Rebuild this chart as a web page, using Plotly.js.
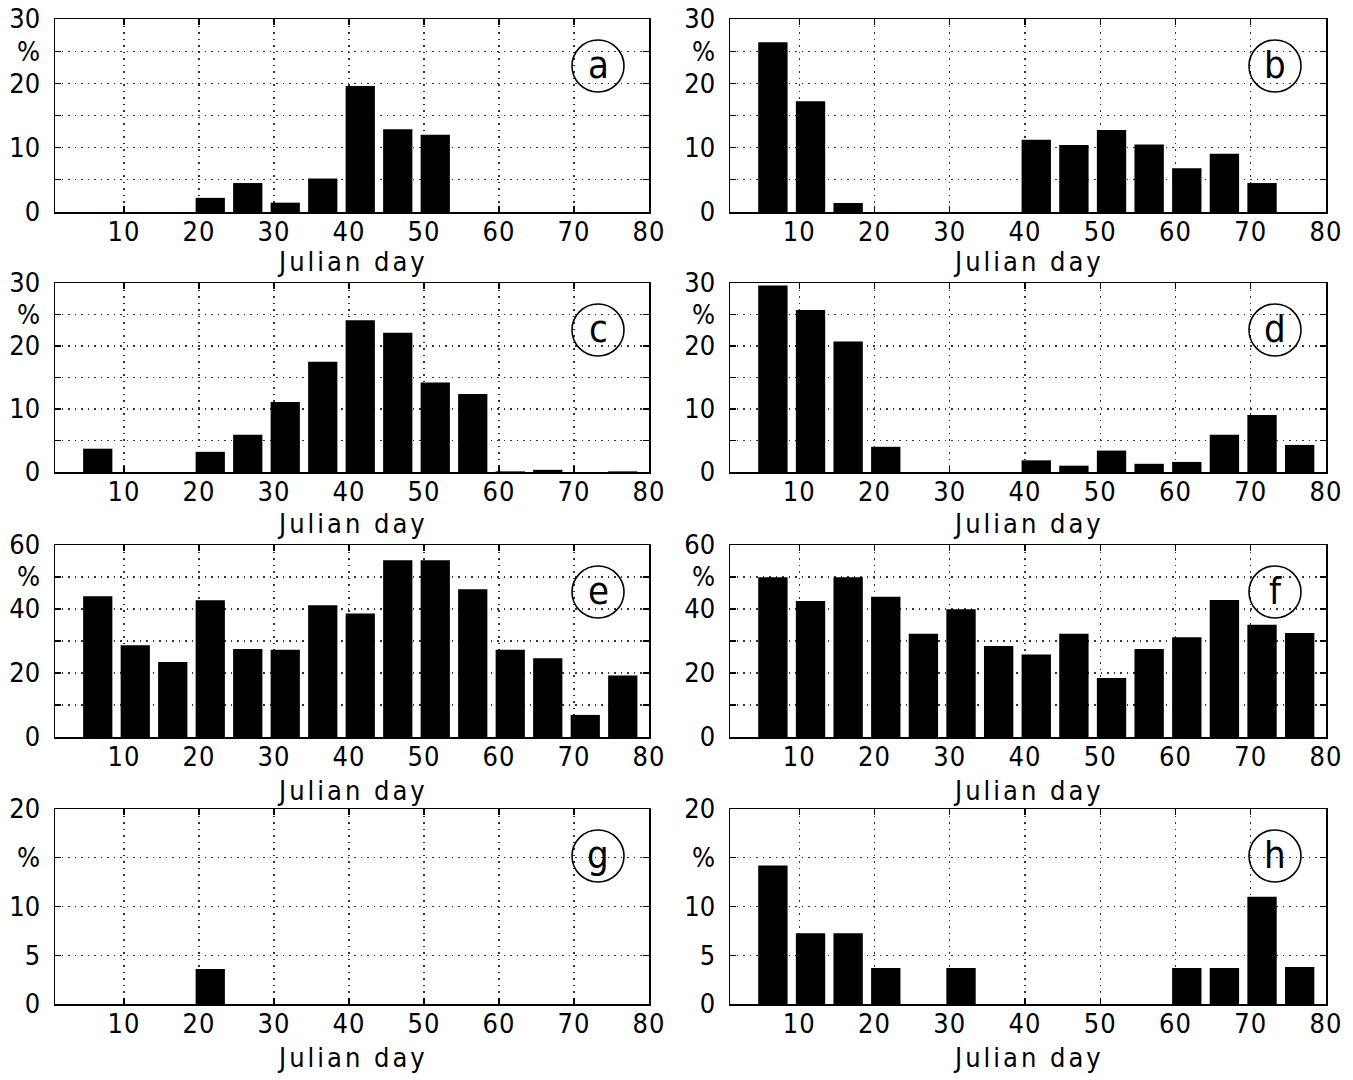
<!DOCTYPE html>
<html>
<head>
<meta charset="utf-8">
<script src="https://cdn.plot.ly/plotly-3.0.1.min.js"></script>
<style>
  html, body { margin: 0; padding: 0; background: #fff; }
  #chart { width: 1353px; height: 1080px; }
  .xaxislayer-above text { letter-spacing: 1px; }
</style>
</head>
<body>
<div id="chart"></div>
<script>
// ---- data ----
const julianDay = [6.5, 11.5, 16.5, 21.5, 26.5, 31.5, 36.5, 41.5, 46.5, 51.5, 56.5, 61.5, 66.5, 71.5, 76.5];
const panelA = [0, 0, 0, 2.2, 4.5, 1.45, 5.2, 19.6, 12.85, 12.0, 0, 0, 0, 0, 0];
const panelB = [26.4, 17.2, 1.4, 0, 0, 0, 0, 11.25, 10.4, 12.75, 10.5, 6.8, 9.07, 4.5, 0];
const panelC = [3.7, 0, 0, 3.2, 5.9, 11.1, 17.5, 24.1, 22.1, 14.2, 12.4, 0.1, 0.35, 0, 0.1];
const panelD = [29.6, 25.7, 20.7, 4.0, 0, 0, 0, 1.85, 1.0, 3.4, 1.3, 1.6, 5.9, 9.05, 4.3];
const panelE = [44.0, 28.7, 23.4, 42.7, 27.5, 27.3, 41.2, 38.6, 55.2, 55.2, 46.2, 27.3, 24.6, 6.9, 19.2];
const panelF = [49.9, 42.5, 49.9, 43.8, 32.3, 39.9, 28.4, 25.8, 32.3, 18.4, 27.5, 31.2, 42.8, 35.1, 32.5];
const panelG = [0, 0, 0, 3.6, 0, 0, 0, 0, 0, 0, 0, 0, 0, 0, 0];
const panelH = [14.2, 7.25, 7.25, 3.7, 0, 3.7, 0, 0, 0, 0, 0, 3.7, 3.7, 11.0, 3.8];
const panelLetters = ['a', 'b', 'c', 'd', 'e', 'f', 'g', 'h'];
const xTickVals = [10, 20, 30, 40, 50, 60, 70, 80];
const xTickText = ['10', '20', '30', '40', '50', '60', '70', '80'];
const yTickVals30 = [0, 5, 10, 15, 20, 25, 30];
const yTickText30 = ['0', '', '10', '', '20', '%', '30'];
const yTickVals60 = [0, 10, 20, 30, 40, 50, 60];
const yTickText60 = ['0', '', '20', '', '40', '%', '60'];
const yTickVals20 = [0, 5, 10, 15, 20];
const yTickText20 = ['0', '5', '10', '%', '20'];
const xTitle = 'Julian day';

// ---- layout helpers ----
const W = 1353, H = 1080;
const FONT = '"DejaVu Sans Condensed", "Liberation Sans Narrow", "Liberation Sans", sans-serif';
const colPx = [[55, 649], [730, 1326]];
const rowPx = [[19, 212], [283, 472], [545, 737], [809, 1004]];
const titleGap = [49, 51, 53, 53];

const series = [panelA, panelB, panelC, panelD, panelE, panelF, panelG, panelH];
const yScales = [
  [30, yTickVals30, yTickText30], [30, yTickVals30, yTickText30],
  [30, yTickVals30, yTickText30], [30, yTickVals30, yTickText30],
  [60, yTickVals60, yTickText60], [60, yTickVals60, yTickText60],
  [20, yTickVals20, yTickText20], [20, yTickVals20, yTickText20]
];

const data = [];
const layout = {
  width: W, height: H,
  margin: { l: 0, r: 0, t: 0, b: 0, pad: 0 },
  paper_bgcolor: '#fff', plot_bgcolor: '#fff',
  showlegend: false,
  font: { family: FONT, size: 27, color: '#000' },
  shapes: [], annotations: []
};

series.forEach((vals, i) => {
  const col = i % 2, row = Math.floor(i / 2);
  const xa = 'x' + (i === 0 ? '' : (i + 1));
  const ya = 'y' + (i === 0 ? '' : (i + 1));
  data.push({
    type: 'bar', x: julianDay, y: vals, xaxis: xa, yaxis: ya,
    width: 3.9, marker: { color: '#000', line: { width: 0 } },
    hoverinfo: 'x+y'
  });
  const [x0, x1] = colPx[col];
  const [y0, y1] = rowPx[row];
  const axCommon = {
    showline: true, mirror: 'ticks', linecolor: '#000', linewidth: 1.5,
    ticks: 'inside', ticklen: 6, tickwidth: 1.2, tickcolor: '#000',
    showgrid: true, gridcolor: '#333', gridwidth: 1.2, griddash: '1.5px,5px',
    zeroline: false, fixedrange: true,
    tickfont: { family: FONT, size: 27, color: '#000' }
  };
  layout['xaxis' + (i === 0 ? '' : (i + 1))] = Object.assign({}, axCommon, {
    domain: [x0 / W, x1 / W], anchor: ya,
    range: [0.8, 80], tickmode: 'array', tickvals: xTickVals, ticktext: xTickText,
    ticklabelstandoff: -5
  });
  const [ymax, tv, tt] = yScales[i];
  layout['yaxis' + (i === 0 ? '' : (i + 1))] = Object.assign({}, axCommon, {
    domain: [1 - y1 / H, 1 - y0 / H], anchor: xa,
    range: [0, ymax], tickmode: 'array', tickvals: tv, ticktext: tt,
    ticklabelstandoff: 8
  });
  // x-axis title
  layout.annotations.push({
    xref: 'paper', yref: 'paper', x: (x0 + x1) / 2 / W, y: 1 - (y1 + titleGap[row]) / H,
    text: '<span style="letter-spacing:3px">' + xTitle + '</span>', showarrow: false,
    font: { family: FONT, size: 27, color: '#000' },
    xanchor: 'center', yanchor: 'middle'
  });
  // circled panel letter
  const cx = x1 - 51, cy = y0 + 47, r = 26;
  layout.shapes.push({
    type: 'circle', xref: 'paper', yref: 'paper',
    x0: (cx - r) / W, x1: (cx + r) / W, y0: 1 - (cy + r) / H, y1: 1 - (cy - r) / H,
    line: { color: '#000', width: 1.6 }, fillcolor: 'rgba(0,0,0,0)'
  });
  layout.annotations.push({
    xref: 'paper', yref: 'paper', x: cx / W, y: 1 - (cy - 1) / H,
    text: panelLetters[i], showarrow: false,
    font: { family: FONT, size: 38, color: '#000' },
    xanchor: 'center', yanchor: 'middle'
  });
});

Plotly.newPlot('chart', data, layout, { displayModeBar: false, staticPlot: true });
</script>
</body>
</html>
